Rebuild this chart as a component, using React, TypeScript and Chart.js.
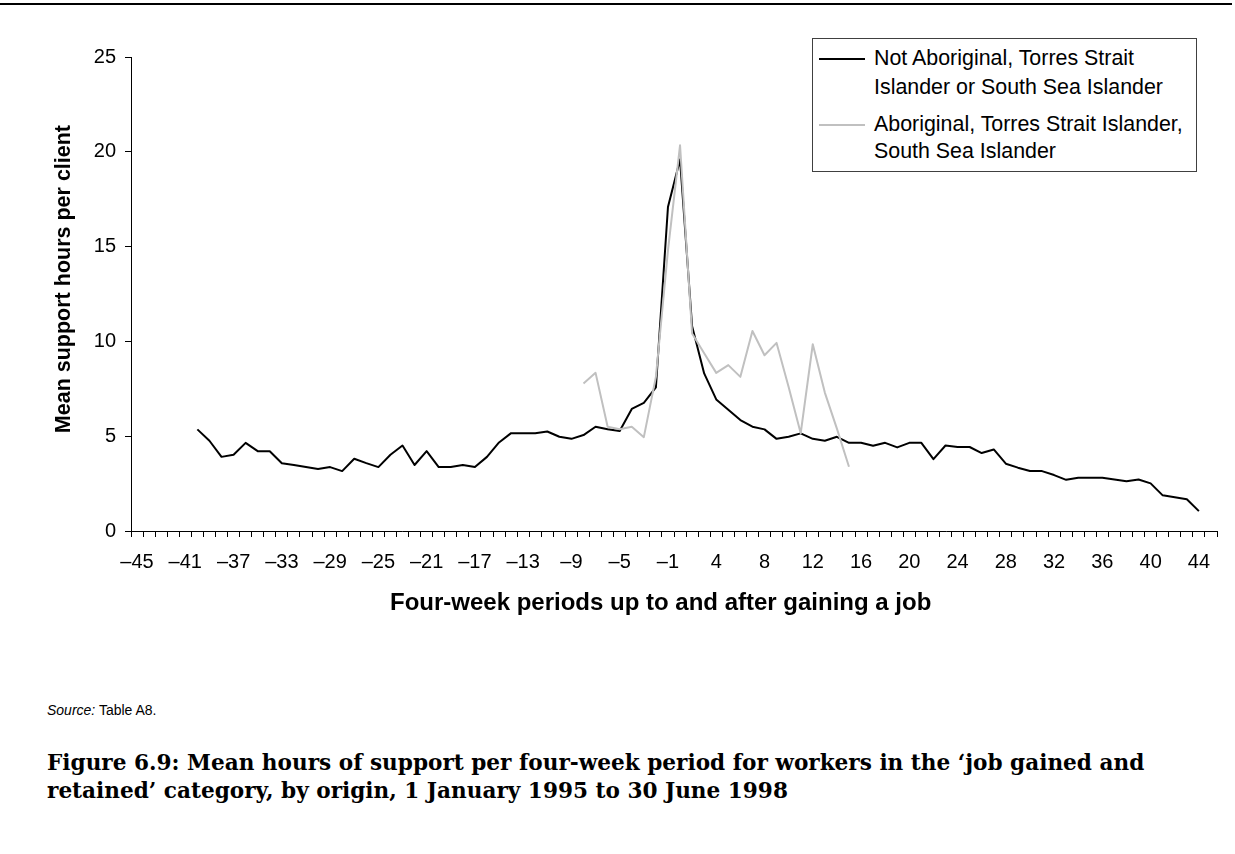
import React, { useEffect, useRef } from 'react';
import { Chart, registerables } from 'chart.js';

Chart.register(...registerables);

// Four-week periods (there is no period 0)
const periods = [
  -45, -44, -43, -42, -41, -40, -39, -38, -37, -36, -35, -34, -33, -32, -31, -30,
  -29, -28, -27, -26, -25, -24, -23, -22, -21, -20, -19, -18, -17, -16, -15, -14,
  -13, -12, -11, -10, -9, -8, -7, -6, -5, -4, -3, -2, -1,
  1, 2, 3, 4, 5, 6, 7, 8, 9, 10, 11, 12, 13, 14, 15, 16, 17, 18, 19, 20, 21, 22,
  23, 24, 25, 26, 27, 28, 29, 30, 31, 32, 33, 34, 35, 36, 37, 38, 39, 40, 41, 42,
  43, 44, 45,
];

// Not Aboriginal, Torres Strait Islander or South Sea Islander
const notIndigenous = [
  null, null, null, null, null,
  5.36, 4.76, 3.91, 4.02, 4.65, 4.21, 4.21, 3.57, 3.48, 3.37, 3.27,
  3.37, 3.16, 3.81, 3.58, 3.37, 4.02, 4.51, 3.48, 4.21, 3.37, 3.37, 3.48, 3.37, 3.91, 4.67, 5.16,
  5.16, 5.16, 5.25, 4.97, 4.86, 5.06, 5.5, 5.37, 5.27, 6.44, 6.76, 7.57, 17.09,
  19.6, 10.8, 8.31, 6.94, 6.4, 5.85, 5.5, 5.36, 4.86, 4.97, 5.15, 4.86, 4.76, 4.97, 4.65, 4.65, 4.5, 4.65, 4.41, 4.65, 4.65, 3.79,
  4.51, 4.43, 4.43, 4.11, 4.3, 3.55, 3.34, 3.16, 3.16, 2.95, 2.7, 2.81, 2.81, 2.81, 2.72, 2.62, 2.72, 2.51, 1.88, 1.78,
  1.67, 1.05, null,
];

// Aboriginal, Torres Strait Islander, South Sea Islander
const indigenous = [
  null, null, null, null, null, null, null, null, null, null, null, null, null, null, null, null,
  null, null, null, null, null, null, null, null, null, null, null, null, null, null, null, null,
  null, null, null, null, null, 7.78, 8.34, 5.5, 5.37, 5.5, 4.95, 8.13, 14.8,
  20.34, 10.42, 9.38, 8.34, 8.75, 8.13, 10.55, 9.27, 9.92, 7.6, 5.15, 9.85, 7.3, 5.4, 3.39, null, null, null, null, null, null, null,
  null, null, null, null, null, null, null, null, null, null, null, null, null, null, null, null, null, null, null, null,
  null, null, null,
];

const seriesNames = [
  ['Not Aboriginal, Torres Strait', 'Islander or South Sea Islander'],
  ['Aboriginal, Torres Strait Islander,', 'South Sea Islander'],
];
const seriesColors = ['#000000', '#c0c0c0'];
const yMin = 0;
const yMax = 25;
const yStep = 5;
const labelEvery = 4;
const xTitle = 'Four-week periods up to and after gaining a job';
const yTitle = 'Mean support hours per client';
const sourceLabel = 'Source:';
const sourceText = ' Table A8.';
const captionLines = [
  'Figure 6.9: Mean hours of support per four-week period for workers in the \u2018job gained and',
  'retained\u2019 category, by origin, 1 January 1995 to 30 June 1998',
];

const fmtPeriod = (p: number) => (p < 0 ? '\u2013' + Math.abs(p) : String(p));

function ChartCanvas() {
  const ref = useRef<HTMLCanvasElement | null>(null);
  useEffect(() => {
    if (!ref.current) return;
    const chart = new Chart(ref.current, {
      type: 'line',
      data: {
        labels: periods.map(fmtPeriod),
        datasets: [
          {
            label: seriesNames[0].join(' '),
            data: notIndigenous,
            borderColor: seriesColors[0],
            backgroundColor: seriesColors[0],
            borderWidth: 2,
            pointRadius: 0,
            tension: 0,
            spanGaps: false,
            borderJoinStyle: 'round',
            order: 1,
          },
          {
            label: seriesNames[1].join(' '),
            data: indigenous,
            borderColor: seriesColors[1],
            backgroundColor: seriesColors[1],
            borderWidth: 2,
            pointRadius: 0,
            tension: 0,
            spanGaps: false,
            borderJoinStyle: 'round',
            order: 0,
          },
        ],
      },
      options: {
        animation: false,
        responsive: true,
        maintainAspectRatio: false,
        layout: { padding: { top: 57, right: 18, left: 0, bottom: 0 } },
        plugins: {
          legend: { display: false },
          tooltip: { enabled: false },
          title: { display: false },
        },
        scales: {
          x: {
            type: 'category',
            offset: true,
            afterFit: (s: any) => {
              s.height = 119;
            },
            grid: {
              display: true,
              offset: true,
              drawOnChartArea: false,
              drawTicks: true,
              tickLength: 6,
              color: '#000',
              lineWidth: 1,
            },
            border: { display: true, color: '#000', width: 1 },
            ticks: {
              autoSkip: false,
              maxRotation: 0,
              minRotation: 0,
              padding: 13,
              color: '#000',
              font: { family: 'Liberation Sans, Arial, sans-serif', size: 20 },
              callback: (_v: any, i: number) => (i % labelEvery === 0 ? fmtPeriod(periods[i]) : ''),
            },
            title: {
              display: true,
              text: xTitle + '    ',
              color: '#000',
              font: { family: 'Liberation Sans, Arial, sans-serif', size: 24, weight: 'bold' },
              padding: { top: 0, bottom: 32 },
            },
          },
          y: {
            min: yMin,
            max: yMax,
            afterFit: (s: any) => {
              s.width = 131;
            },
            grid: {
              display: true,
              drawOnChartArea: false,
              drawTicks: true,
              tickLength: 6,
              color: '#000',
              lineWidth: 1,
            },
            border: { display: true, color: '#000', width: 1 },
            ticks: {
              stepSize: yStep,
              padding: 9,
              color: '#000',
              font: { family: 'Liberation Sans, Arial, sans-serif', size: 20 },
            },
            title: {
              display: true,
              text: '     ' + yTitle,
              color: '#000',
              font: { family: 'Liberation Sans, Arial, sans-serif', size: 21.5, weight: 'bold' },
              padding: { top: 51, bottom: 0 },
            },
          },
        },
      },
    });
    return () => chart.destroy();
  }, []);
  return <canvas ref={ref} />;
}

export default function App() {
  const sans = 'Liberation Sans, Arial, sans-serif';
  const legendTop = [43.7, 73, 110.4, 137];
  return (
    <div
      style={{
        position: 'absolute',
        left: 0,
        top: 0,
        width: 1235,
        height: 854,
        background: '#fff',
        overflow: 'hidden',
      }}
    >
      <div style={{ position: 'absolute', left: 0, top: 3, width: 1232, height: 2, background: '#000' }} />
      <div style={{ position: 'absolute', left: 0, top: 0, width: 1235, height: 650 }}>
        <ChartCanvas />
      </div>
      {/* legend */}
      <div
        style={{
          position: 'absolute',
          left: 812,
          top: 38,
          width: 383,
          height: 132,
          border: '1px solid #404040',
          background: '#fff',
        }}
      />
      <div style={{ position: 'absolute', left: 819, top: 58, width: 46, height: 2, background: seriesColors[0] }} />
      <div style={{ position: 'absolute', left: 819, top: 124, width: 46, height: 2, background: seriesColors[1] }} />
      {[seriesNames[0][0], seriesNames[0][1], seriesNames[1][0], seriesNames[1][1]].map((t, i) => (
        <div
          key={i}
          style={{
            position: 'absolute',
            left: 874,
            top: legendTop[i],
            fontFamily: sans,
            fontSize: 21.4,
            lineHeight: '28px',
            color: '#000',
            whiteSpace: 'nowrap',
          }}
        >
          {t}
        </div>
      ))}
      <div
        style={{
          position: 'absolute',
          left: 47,
          top: 702,
          fontFamily: sans,
          fontSize: 14,
          lineHeight: '16px',
          color: '#000',
          whiteSpace: 'nowrap',
        }}
      >
        <i>{sourceLabel}</i>
        {sourceText}
      </div>
      <div
        style={{
          position: 'absolute',
          left: 47,
          top: 748.5,
          fontFamily: 'DejaVu Serif, serif',
          fontWeight: 'bold',
          fontSize: 21.6,
          lineHeight: '28px',
          color: '#000',
          whiteSpace: 'nowrap',
        }}
      >
        {captionLines.map((l, i) => (
          <div key={i}>{l}</div>
        ))}
      </div>
    </div>
  );
}
